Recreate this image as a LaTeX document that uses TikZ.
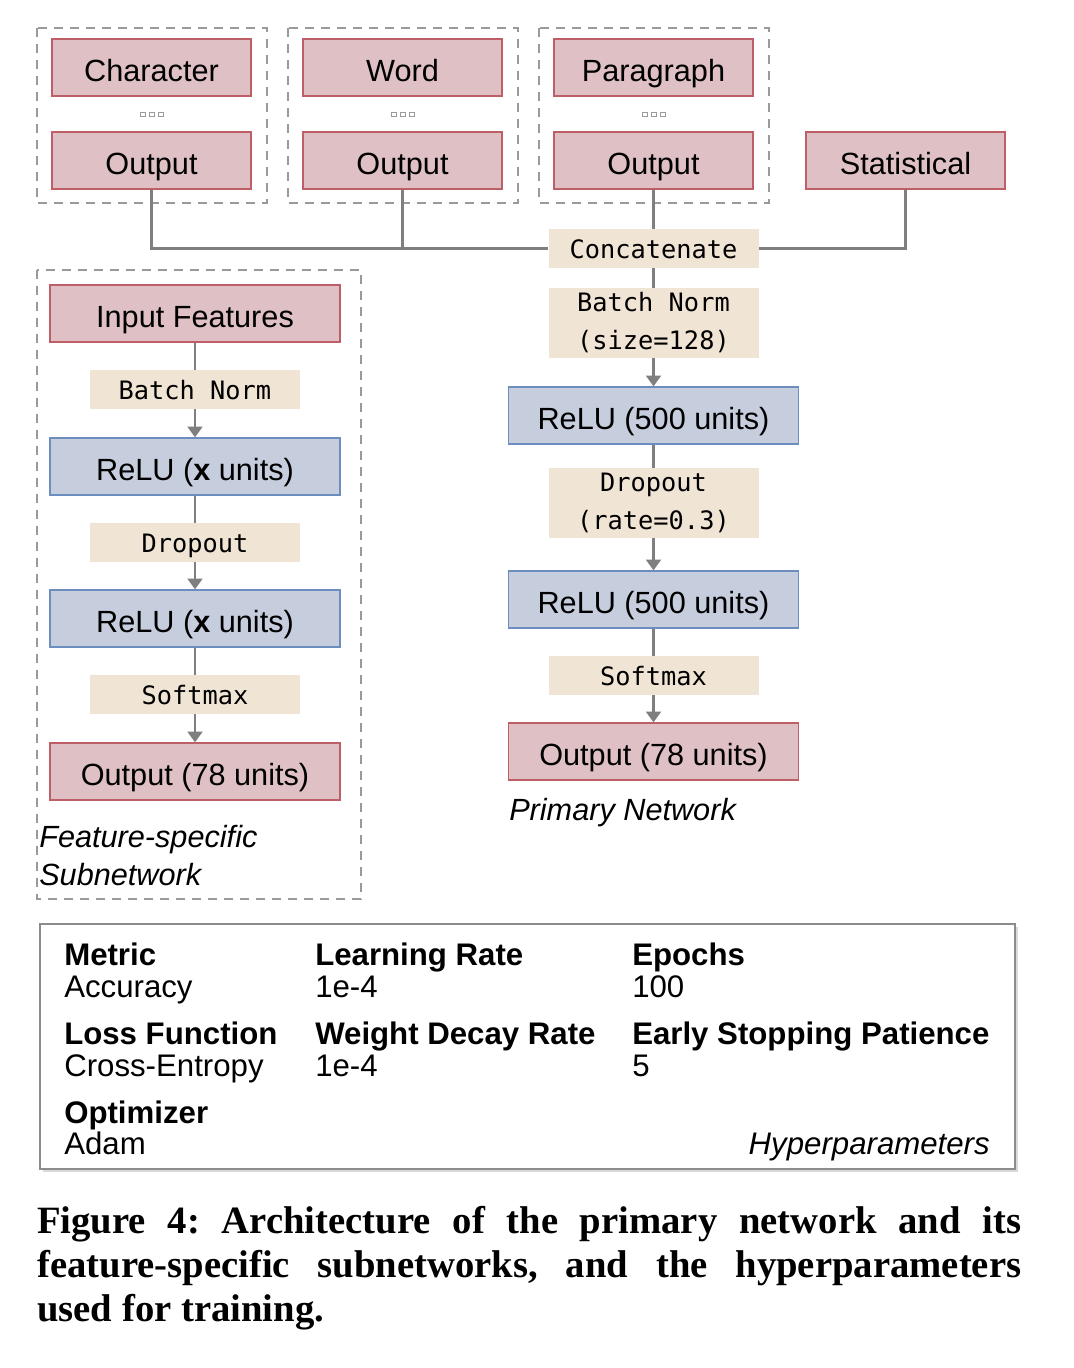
\documentclass[tikz,border=0pt]{standalone}
\usepackage{fontspec}
\setmainfont{Liberation Sans}
\newfontfamily\monof{DejaVu Sans Mono}
\newfontfamily\capf{Liberation Serif}
\usetikzlibrary{arrows.meta}
\frenchspacing
\definecolor{pinkfill}{HTML}{DFC0C5}
\definecolor{pinkdraw}{HTML}{BE5F68}
\definecolor{bluefill}{HTML}{C6CDDD}
\definecolor{bluedraw}{HTML}{6C8EBF}
\definecolor{beigefill}{HTML}{F0E4D4}
\definecolor{linegray}{HTML}{7F7F7F}
\definecolor{dashgray}{HTML}{9A9A9A}
\newcommand{\boxfont}{\fontsize{23pt}{27pt}\selectfont}
\newcommand{\monofont}{\monof\fontsize{19pt}{28.5pt}\selectfont}
\tikzset{
  pinkbox/.style={rectangle, draw=pinkdraw, line width=1pt, fill=pinkfill, minimum width=149.25pt, minimum height=42.75pt, inner sep=0pt, text height=21pt, text depth=0pt, font=\boxfont},
  pinkwide/.style={pinkbox, minimum width=217.5pt},
  bluebox/.style={pinkbox, draw=bluedraw, fill=bluefill, minimum width=217.5pt},
  layerbox/.style={rectangle, fill=beigefill, minimum width=157.5pt, minimum height=29.25pt, inner sep=0pt, text height=15pt, text depth=0pt, font=\monofont},
  layertall/.style={rectangle, fill=beigefill, minimum width=157.5pt, minimum height=52.5pt, inner sep=0pt, font=\monofont, align=center},
  dashbox/.style={draw=dashgray, line width=1pt, dash pattern=on 7pt off 5pt},
  conn/.style={draw=linegray, line width=2.2pt},
  arr/.style={conn, -{Triangle[width=11pt,length=8pt]}},
  dotmark/.style={draw=dashgray, line width=0.6pt, fill=white},
  hbold/.style={anchor=base west, inner sep=0pt, font=\fontsize{23.4pt}{26pt}\selectfont\bfseries},
  hnorm/.style={anchor=base west, inner sep=0pt, font=\fontsize{23.4pt}{26pt}\selectfont},
  capline/.style={anchor=base west, inner sep=0pt, font=\capf\bfseries\fontsize{29pt}{33pt}\selectfont},
}
\begin{document}
\begin{tikzpicture}[x=0.75pt,y=-0.75pt]
\useasboundingbox[fill=white] (0,0) rectangle (1074,1368);

% top dashed groups
\draw[dashbox] (37,28) rectangle (267,203);
\draw[dashbox] (288,28) rectangle (518,203);
\draw[dashbox] (539,28) rectangle (769,203);

\node[pinkbox] (char) at (151.5,67.5) {Character};
\node[pinkbox] (out1) at (151.5,160.5) {Output};
\node[pinkbox] (word) at (402.5,67.5) {Word};
\node[pinkbox] (out2) at (402.5,160.5) {Output};
\node[pinkbox] (para) at (653.5,67.5) {Paragraph};
\node[pinkbox] (out3) at (653.5,160.5) {Output};
\node[pinkbox] (stat) at (905.5,160.5) {Statistical};

\foreach \cx in {151.5,402.5,653.5}{
  \foreach \dx in {-9,0,9}{
    \draw[dotmark] (\cx+\dx-2.5,112) rectangle (\cx+\dx+2.5,116.5);
  }
}

% primary network
\node[layerbox] (cat) at (653.5,248.5) {Concatenate};
\node[layertall] (bn2) at (653.5,323) {Batch Norm\\(size=128)};
\node[bluebox] (r2a) at (653.5,415.5) {ReLU (500 units)};
\node[layertall] (do2) at (653.5,503) {Dropout\\(rate=0.3)};
\node[bluebox] (r2b) at (653.5,599.5) {ReLU (500 units)};
\node[layerbox] (sm2) at (653.5,675.5) {Softmax};
\node[pinkwide] (o2) at (653.5,751.5) {Output (78 units)};
\node[anchor=base west, inner sep=0pt, font=\boxfont\itshape] (pnl) at (509,820) {Primary Network};

\draw[conn] (out1.south) |- (cat.west);
\draw[conn] (out2.south) -- (out2.south |- cat.west);
\draw[conn] (out3.south) -- (cat.north);
\draw[conn] (stat.south) |- (cat.east);
\draw[conn] (cat.south) -- (bn2.north);
\draw[arr] (bn2.south) -- (r2a.north);
\draw[conn] (r2a.south) -- (do2.north);
\draw[arr] (do2.south) -- (r2b.north);
\draw[conn] (r2b.south) -- (sm2.north);
\draw[arr] (sm2.south) -- (o2.north);

% feature-specific subnetwork
\draw[dashbox] (37,270) rectangle (361,899);
\node[pinkwide] (inf) at (195,313.5) {Input Features};
\node[layerbox] (bn1) at (195,389.5) {Batch Norm};
\node[bluebox] (r1a) at (195,466.5) {ReLU (\textbf{x} units)};
\node[layerbox] (do1) at (195,542.5) {Dropout};
\node[bluebox] (r1b) at (195,618.5) {ReLU (\textbf{x} units)};
\node[layerbox] (sm1) at (195,694.5) {Softmax};
\node[pinkwide] (o1) at (195,771.5) {Output (78 units)};
\node[anchor=base west, inner sep=0pt, font=\boxfont\itshape] (fsl1) at (39,847) {Feature-specific};
\node[anchor=base west, inner sep=0pt, font=\boxfont\itshape] (fsl2) at (39,885) {Subnetwork};

\draw[conn] (inf.south) -- (bn1.north);
\draw[arr] (bn1.south) -- (r1a.north);
\draw[conn] (r1a.south) -- (do1.north);
\draw[arr] (do1.south) -- (r1b.north);
\draw[conn] (r1b.south) -- (sm1.north);
\draw[arr] (sm1.south) -- (o1.north);

% hyperparameters box
\fill[black!15] (43,927) rectangle (1018,1172);
\draw[draw=black!45, line width=1pt, fill=white] (40,924) rectangle (1015,1169);
\node[hbold] (h1) at (64,965) {Metric};
\node[hnorm] (v1) at (64,997) {Accuracy};
\node[hbold] (h2) at (315,965) {Learning Rate};
\node[hnorm] (v2) at (315,997) {1e-4};
\node[hbold] (h3) at (632,965) {Epochs};
\node[hnorm] (v3) at (632,997) {100};
\node[hbold] (h4) at (64,1044) {Loss Function};
\node[hnorm] (v4) at (64,1076) {Cross-Entropy};
\node[hbold] (h5) at (315,1044) {Weight Decay Rate};
\node[hnorm] (v5) at (315,1076) {1e-4};
\node[hbold] (h6) at (632,1044) {Early Stopping Patience};
\node[hnorm] (v6) at (632,1076) {5};
\node[hbold] (h7) at (64,1123) {Optimizer};
\node[hnorm] (v7) at (64,1154) {Adam};
\node[anchor=base east, inner sep=0pt, font=\fontsize{23.4pt}{26pt}\selectfont\itshape] (hyp) at (990,1154) {Hyperparameters};

% caption
\node[capline] (c1) at (37,1233) {\makebox[738pt][s]{Figure 4: Architecture of the primary network and its}};
\node[capline] (c2) at (37,1277) {\makebox[738pt][s]{feature-specific subnetworks, and the hyperparameters}};
\node[capline] (c3) at (37,1321) {used for training.};
\end{tikzpicture}
\end{document}
